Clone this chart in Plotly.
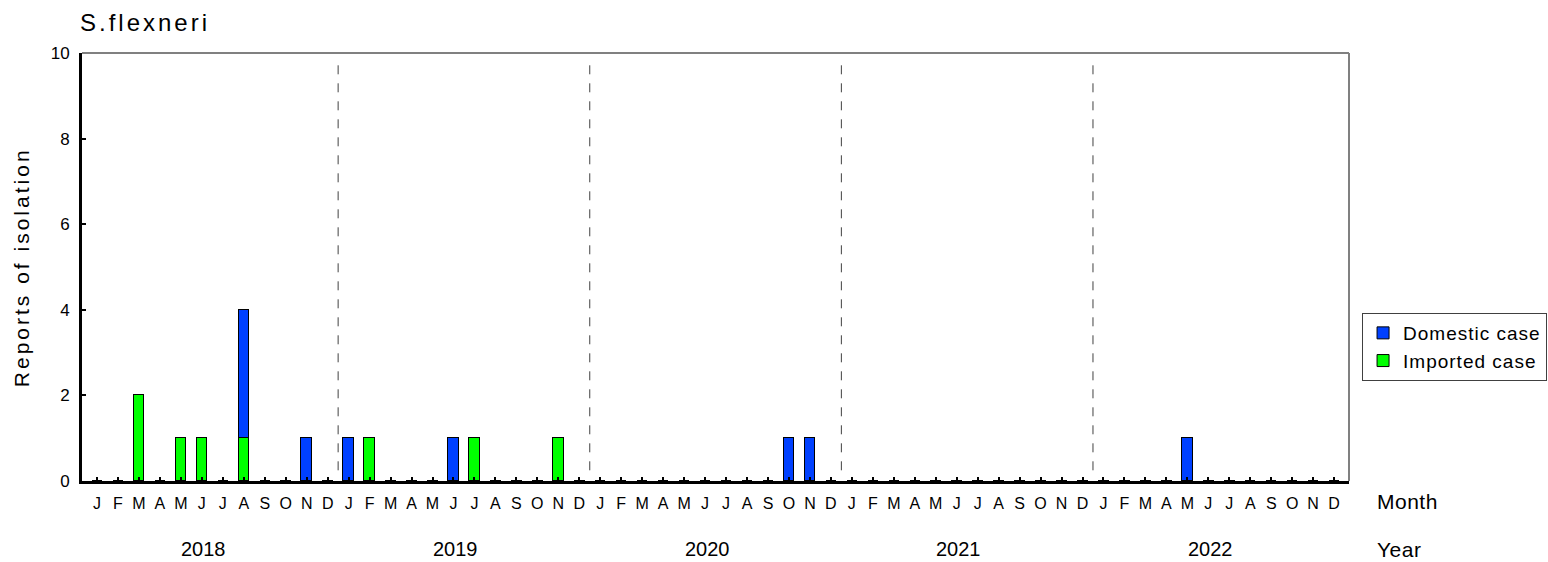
import plotly.graph_objects as go

years = [2018, 2019, 2020, 2021, 2022]
month_letters = ["J", "F", "M", "A", "M", "J", "J", "A", "S", "O", "N", "D"]

# monthly counts, Jan 2018 .. Dec 2022
imported = [0, 0, 2, 0, 1, 1, 0, 1, 0, 0, 0, 0,
            0, 1, 0, 0, 0, 0, 1, 0, 0, 0, 1, 0,
            0, 0, 0, 0, 0, 0, 0, 0, 0, 0, 0, 0,
            0, 0, 0, 0, 0, 0, 0, 0, 0, 0, 0, 0,
            0, 0, 0, 0, 0, 0, 0, 0, 0, 0, 0, 0]
domestic = [0, 0, 0, 0, 0, 0, 0, 3, 0, 0, 1, 0,
            1, 0, 0, 0, 0, 1, 0, 0, 0, 0, 0, 0,
            0, 0, 0, 0, 0, 0, 0, 0, 0, 1, 1, 0,
            0, 0, 0, 0, 0, 0, 0, 0, 0, 0, 0, 0,
            0, 0, 0, 0, 1, 0, 0, 0, 0, 0, 0, 0]

n = len(years) * 12
xs = list(range(n))
ticktext = month_letters * len(years)

ARIAL = "Liberation Sans, Arial, sans-serif"

def spaced(t, px=2):
    return f"<span style='letter-spacing:{px}px'>{t}</span>"

fig = go.Figure()
fig.add_trace(go.Bar(x=xs, y=imported, name=spaced("Imported case", 1), width=0.5,
                     marker=dict(color="#00FF00", line=dict(color="black", width=1))))
fig.add_trace(go.Bar(x=xs, y=domestic, name=spaced("Domestic case", 1), width=0.5,
                     marker=dict(color="#0040FF", line=dict(color="black", width=1))))

shapes = []
for k in range(1, len(years)):
    xb = 12 * k - 0.5
    shapes.append(dict(type="line", xref="x", yref="y", x0=xb, x1=xb, y0=0.25, y1=9.85,
                       line=dict(color="#404040", width=1, dash="dash")))
# top and right gray frame
shapes.append(dict(type="line", xref="paper", yref="paper", x0=0, x1=1, y0=1, y1=1,
                   line=dict(color="#808080", width=2)))
shapes.append(dict(type="line", xref="paper", yref="paper", x0=1, x1=1, y0=0, y1=1,
                   line=dict(color="#808080", width=2)))

annotations = []
for i, yr in enumerate(years):
    annotations.append(dict(x=12 * i + 5.1, xref="x", y=-0.159, yref="paper", text=str(yr),
                            showarrow=False, font=dict(family=ARIAL, size=20, color="black"),
                            xanchor="center", yanchor="middle"))
annotations.append(dict(x=1.0205, xref="paper", y=-0.049, yref="paper", text=spaced("Month", 0.5),
                        showarrow=False, font=dict(family=ARIAL, size=21, color="black"),
                        xanchor="left", yanchor="middle"))
annotations.append(dict(x=1.0205, xref="paper", y=-0.159, yref="paper", text=spaced("Year", 0.5),
                        showarrow=False, font=dict(family=ARIAL, size=21, color="black"),
                        xanchor="left", yanchor="middle"))
annotations.append(dict(x=-0.003, xref="paper", y=1.0724, yref="paper", text=spaced("S.flexneri", 3),
                        showarrow=False, font=dict(family=ARIAL, size=24, color="black"),
                        xanchor="left", yanchor="middle"))
annotations.append(dict(x=-0.048, xref="paper", y=0.5, yref="paper", text=spaced("Reports of isolation", 3),
                        showarrow=False, textangle=-90, font=dict(family=ARIAL, size=21, color="black"),
                        xanchor="center", yanchor="middle"))

fig.update_layout(
    width=1548, height=562,
    margin=dict(l=82, r=199, t=53, b=81, autoexpand=False),
    paper_bgcolor="white", plot_bgcolor="white",
    barmode="stack", bargap=0,
    showlegend=True,
    legend=dict(x=1.0103, y=0.3925, xanchor="left", yanchor="top", traceorder="reversed",
                bordercolor="#404040", borderwidth=1, bgcolor="white",
                font=dict(family=ARIAL, size=19, color="black"),
                itemwidth=30, tracegroupgap=0),
    xaxis=dict(range=[-0.716, 59.71], tickmode="array", tickvals=xs, ticktext=ticktext,
               ticks="inside", ticklen=4, tickwidth=2, tickcolor="black",
               showline=True, linecolor="black", linewidth=3, showgrid=False, zeroline=False,
               tickfont=dict(family=ARIAL, size=16, color="black"), ticklabelstandoff=6,
               fixedrange=True),
    yaxis=dict(range=[0, 10], tickmode="array", tickvals=[0, 2, 4, 6, 8, 10],
               ticks="inside", ticklen=4, tickwidth=2, tickcolor="black",
               showline=True, linecolor="black", linewidth=3, showgrid=False, zeroline=False,
               tickfont=dict(family=ARIAL, size=17, color="black"), ticklabelstandoff=6,
               fixedrange=True),
    shapes=shapes,
    annotations=annotations,
)

fig.write_html("out.html", config={"displayModeBar": False},
               post_script="document.body.style.margin='0px';")
